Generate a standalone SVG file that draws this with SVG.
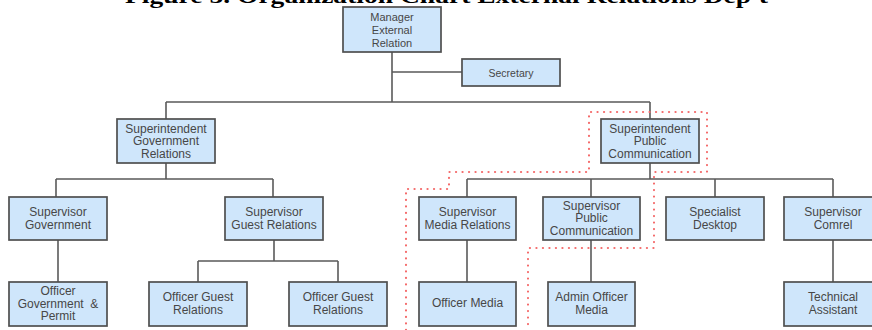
<svg xmlns="http://www.w3.org/2000/svg" width="872" height="330" viewBox="0 0 872 330">
<style>
.box{fill:#cfe6fb;stroke:#4f4f4f;stroke-width:1.7}
.t{font-family:"Liberation Sans",Arial,sans-serif;font-size:12px;fill:#474747;text-anchor:middle}
.c{fill:none;stroke:#5a5a5a;stroke-width:1.6}
.dot{fill:none;stroke:#f46a6a;stroke-width:2.2;stroke-dasharray:0.1 6.4;stroke-linecap:round}
.title{font-family:"Liberation Serif","Times New Roman",serif;font-weight:bold;font-size:22px;fill:#000;text-anchor:middle}
</style>
<rect width="872" height="330" fill="#fff"/>
<text class="title" x="446.5" y="3" textLength="643" lengthAdjust="spacingAndGlyphs">Figure 5. Organization Chart External Relations Dep't</text>
<g id="connectors">
<path class="c" d="M392,52V102M392,72H462M166,102H650M166,102V119M650,102V119"/>
<path class="c" d="M166,163V179M56,179H273M56,179V197M273,179V197M58,240V282"/>
<path class="c" d="M274,240V261M198,261H338M198,261V282M338,261V282"/>
<path class="c" d="M650,163V179M467,179H833M467,179V197M591,179V197M715,179V197M833,179V197"/>
<path class="c" d="M467,240V282M591,240V282M833,240V282"/>
</g>
<path id="highlight" class="dot" d="M406,330V189H449V172H589V112H707V172H654V248H528V330"/>
<g id="manager"><rect class="box" x="343" y="7" width="98" height="45"/>
<text class="t" x="392" y="21" style="font-size:11px">Manager</text>
<text class="t" x="392" y="34" style="font-size:11px">External</text>
<text class="t" x="392" y="47" style="font-size:11px">Relation</text></g>
<g id="secretary"><rect class="box" x="462" y="59" width="98" height="27"/>
<text class="t" x="511" y="76.5" style="font-size:10.5px">Secretary</text></g>
<g id="sup-gov-rel"><rect class="box" x="117" y="119" width="98" height="44"/>
<text class="t" x="166" y="132.5">Superintendent</text>
<text class="t" x="166" y="145">Government</text>
<text class="t" x="166" y="157.5">Relations</text></g>
<g id="sup-pub-comm"><rect class="box" x="601" y="119" width="98" height="44"/>
<text class="t" x="650" y="132.5">Superintendent</text>
<text class="t" x="650" y="145">Public</text>
<text class="t" x="650" y="157.5">Communication</text></g>
<g id="supv-gov"><rect class="box" x="9" y="197" width="98" height="43"/>
<text class="t" x="58" y="216">Supervisor</text>
<text class="t" x="58" y="228.5">Government</text></g>
<g id="supv-guest"><rect class="box" x="225" y="197" width="98" height="43"/>
<text class="t" x="274" y="216">Supervisor</text>
<text class="t" x="274" y="228.5">Guest Relations</text></g>
<g id="supv-media"><rect class="box" x="419" y="197" width="97" height="43"/>
<text class="t" x="467.5" y="216">Supervisor</text>
<text class="t" x="467.5" y="228.5">Media Relations</text></g>
<g id="supv-pub-comm"><rect class="box" x="543" y="197" width="97" height="43"/>
<text class="t" x="591.5" y="209.5">Supervisor</text>
<text class="t" x="591.5" y="222">Public</text>
<text class="t" x="591.5" y="234.5">Communication</text></g>
<g id="specialist"><rect class="box" x="666" y="197" width="98" height="43"/>
<text class="t" x="715" y="216">Specialist</text>
<text class="t" x="715" y="228.5">Desktop</text></g>
<g id="supv-comrel"><rect class="box" x="784" y="197" width="98" height="43"/>
<text class="t" x="833" y="216">Supervisor</text>
<text class="t" x="833" y="228.5">Comrel</text></g>
<g id="off-gov"><rect class="box" x="9" y="282" width="98" height="44"/>
<text class="t" x="58" y="294.5">Officer</text>
<text class="t" x="58" y="307.5" style="white-space:pre">Government  &amp;</text>
<text class="t" x="58" y="320">Permit</text></g>
<g id="off-guest-1"><rect class="box" x="149" y="282" width="98" height="44"/>
<text class="t" x="198" y="301">Officer Guest</text>
<text class="t" x="198" y="313.5">Relations</text></g>
<g id="off-guest-2"><rect class="box" x="289" y="282" width="98" height="44"/>
<text class="t" x="338" y="301">Officer Guest</text>
<text class="t" x="338" y="313.5">Relations</text></g>
<g id="off-media"><rect class="box" x="419" y="282" width="97" height="44"/>
<text class="t" x="467.5" y="307">Officer Media</text></g>
<g id="admin-media"><rect class="box" x="548" y="282" width="87" height="44"/>
<text class="t" x="591.5" y="301">Admin Officer</text>
<text class="t" x="591.5" y="313.5">Media</text></g>
<g id="tech-assist"><rect class="box" x="784" y="282" width="98" height="44"/>
<text class="t" x="833" y="301">Technical</text>
<text class="t" x="833" y="313.5">Assistant</text></g>
</svg>
